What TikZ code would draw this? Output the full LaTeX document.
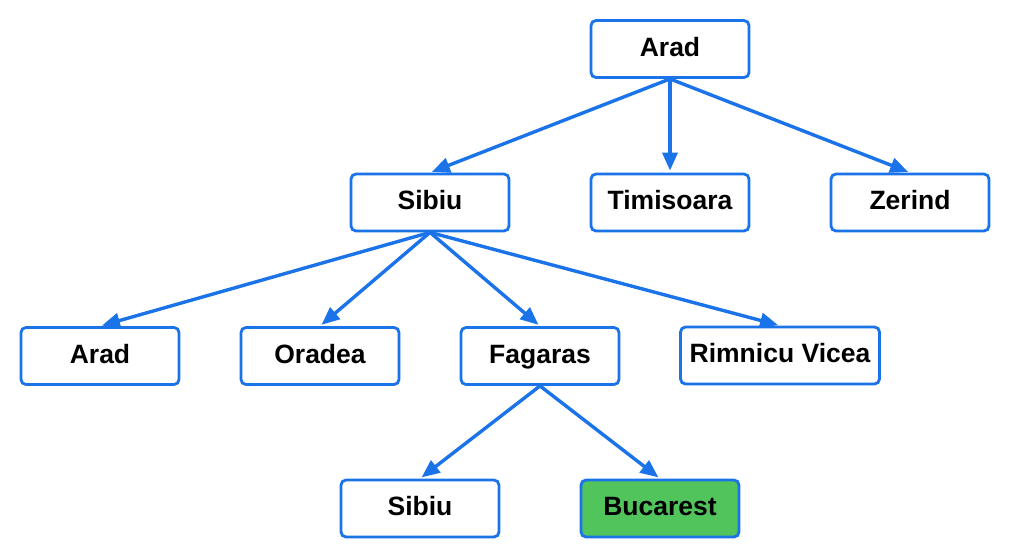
\documentclass[tikz,border=0pt]{standalone}
\usepackage{fontspec}
\setmainfont{Liberation Sans}
\usetikzlibrary{arrows.meta}
\definecolor{edgeblue}{HTML}{1A73E8}
\definecolor{goalgreen}{HTML}{52C45C}
\begin{document}
\begin{tikzpicture}[x=1pt,y=-1pt,
  city/.style={draw=edgeblue,line width=2.8pt,rounded corners=5pt,fill=white,
    minimum width=158pt,minimum height=57pt,inner sep=0pt,
    text height=19pt,text depth=5pt,
    font=\fontsize{26.5}{30}\selectfont\bfseries},
  goal/.style={city,fill=goalgreen},
  link/.style={draw=edgeblue,line width=3.4pt,-{Triangle[length=18pt,width=15pt]},shorten >=2pt}]
\useasboundingbox (0,0) rectangle (1010,558);
\node[city] (arad) at (670,49) {Arad};
\node[city] (sibiu) at (430,202.5) {Sibiu};
\node[city] (timisoara) at (670,202.5) {Timisoara};
\node[city] (zerind) at (910,202.5) {Zerind};
\node[city] (arad2) at (100,356) {Arad};
\node[city] (oradea) at (320,356) {Oradea};
\node[city] (fagaras) at (540,356) {Fagaras};
\node[city,minimum width=199pt] (rimnicu) at (780,355.5) {Rimnicu Vicea};
\node[city] (sibiu2) at (420,508.5) {Sibiu};
\node[goal] (bucarest) at (660,508.5) {Bucarest};
\draw[link] (arad.south) -- (sibiu.north);
\draw[link] (arad.south) -- (timisoara.north);
\draw[link] (arad.south) -- (zerind.north);
\draw[link] (sibiu.south) -- (arad2.north);
\draw[link] (sibiu.south) -- (oradea.north);
\draw[link] (sibiu.south) -- (fagaras.north);
\draw[link] (sibiu.south) -- (rimnicu.north);
\draw[link] (fagaras.south) -- (sibiu2.north);
\draw[link] (fagaras.south) -- (bucarest.north);
\end{tikzpicture}
\end{document}
